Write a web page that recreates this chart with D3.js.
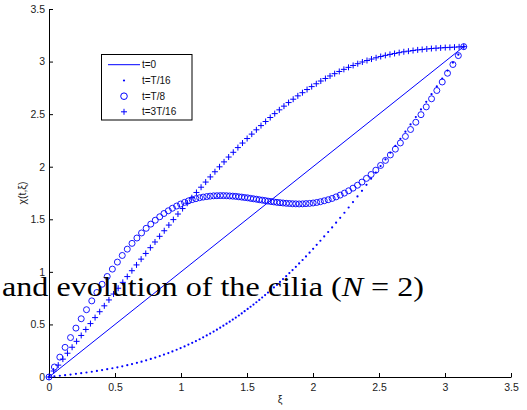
<!DOCTYPE html>
<html><head><meta charset="utf-8">
<script src="https://cdn.jsdelivr.net/npm/d3@7"></script>
<style>
html,body{margin:0;padding:0;background:#fff;overflow:hidden}
.ax text, .lbl {font-family: "Liberation Sans", Arial, Helvetica, sans-serif;}
.cap {font-family: "Liberation Serif", "DejaVu Serif", serif;}
</style>
</head><body><svg id="c" width="527" height="410"></svg>
<script>
// ---- data ----
const seriesNames = ["t=0", "t=T/16", "t=T/8", "t=3T/16"];
const tickValues = [0, 0.5, 1, 1.5, 2, 2.5, 3, 3.5];
const tickLabels = ["0", "0.5", "1", "1.5", "2", "2.5", "3", "3.5"];

// t=0 : straight line
const xiLine = [0, 3.142];
const chiT0 = [0, 3.142];

// sample abscissae used by t=T/16 and t=T/8
const xiA = [
 0, 0.041, 0.082, 0.122, 0.163, 0.204, 0.244, 0.284, 0.324, 0.363,
 0.402, 0.441, 0.480, 0.518, 0.555, 0.593, 0.629, 0.666, 0.701, 0.736,
 0.771, 0.805, 0.839, 0.871, 0.904, 0.935, 0.967, 0.997, 1.027, 1.056,
 1.085, 1.113, 1.141, 1.168, 1.195, 1.221, 1.247, 1.272, 1.297, 1.321,
 1.345, 1.369, 1.392, 1.415, 1.438, 1.460, 1.482, 1.505, 1.527, 1.549,
 1.571, 1.593, 1.615, 1.637, 1.659, 1.682, 1.704, 1.727, 1.750, 1.773,
 1.797, 1.821, 1.845, 1.870, 1.895, 1.921, 1.947, 1.974, 2.001, 2.028,
 2.056, 2.085, 2.115, 2.145, 2.175, 2.206, 2.238, 2.270, 2.303, 2.337,
 2.371, 2.405, 2.440, 2.476, 2.512, 2.549, 2.586, 2.624, 2.662, 2.700,
 2.739, 2.779, 2.818, 2.858, 2.898, 2.938, 2.979, 3.019, 3.060, 3.101,
 3.142];

const chiT16 = [
 0, 0.006, 0.012, 0.017, 0.023, 0.030, 0.036, 0.043, 0.050, 0.058,
 0.066, 0.074, 0.083, 0.092, 0.102, 0.112, 0.123, 0.135, 0.146, 0.159,
 0.172, 0.185, 0.199, 0.213, 0.228, 0.243, 0.259, 0.275, 0.291, 0.308,
 0.325, 0.342, 0.359, 0.377, 0.395, 0.413, 0.432, 0.450, 0.469, 0.488,
 0.507, 0.526, 0.546, 0.565, 0.585, 0.605, 0.626, 0.647, 0.668, 0.689,
 0.711, 0.733, 0.756, 0.779, 0.803, 0.827, 0.852, 0.877, 0.904, 0.931,
 0.959, 0.988, 1.017, 1.048, 1.080, 1.113, 1.147, 1.182, 1.219, 1.257,
 1.296, 1.337, 1.379, 1.423, 1.468, 1.514, 1.562, 1.612, 1.664, 1.717,
 1.771, 1.828, 1.886, 1.945, 2.006, 2.069, 2.133, 2.198, 2.265, 2.333,
 2.402, 2.473, 2.545, 2.617, 2.690, 2.764, 2.839, 2.914, 2.990, 3.066,
 3.142];

const chiT8 = [
 0, 0.095, 0.189, 0.282, 0.375, 0.465, 0.554, 0.640, 0.724, 0.804,
 0.882, 0.956, 1.026, 1.093, 1.156, 1.216, 1.271, 1.322, 1.370, 1.414,
 1.454, 1.491, 1.524, 1.555, 1.581, 1.605, 1.626, 1.645, 1.661, 1.675,
 1.687, 1.696, 1.705, 1.711, 1.716, 1.720, 1.723, 1.724, 1.725, 1.725,
 1.724, 1.722, 1.720, 1.718, 1.714, 1.711, 1.707, 1.704, 1.699, 1.695,
 1.691, 1.686, 1.682, 1.678, 1.673, 1.669, 1.665, 1.661, 1.658, 1.655,
 1.652, 1.650, 1.648, 1.647, 1.646, 1.647, 1.649, 1.651, 1.655, 1.660,
 1.667, 1.676, 1.686, 1.698, 1.713, 1.730, 1.749, 1.771, 1.796, 1.824,
 1.854, 1.889, 1.926, 1.967, 2.012, 2.060, 2.112, 2.167, 2.226, 2.288,
 2.354, 2.423, 2.495, 2.569, 2.646, 2.725, 2.806, 2.889, 2.972, 3.057,
 3.142];

// sample abscissae used by t=3T/16
const xiB = [
 0, 0.035, 0.070, 0.105, 0.140, 0.175, 0.209, 0.244, 0.279, 0.314,
 0.349, 0.384, 0.419, 0.454, 0.489, 0.524, 0.559, 0.593, 0.628, 0.663,
 0.698, 0.733, 0.768, 0.803, 0.838, 0.873, 0.908, 0.942, 0.977, 1.012,
 1.047, 1.082, 1.117, 1.152, 1.187, 1.222, 1.257, 1.292, 1.326, 1.361,
 1.396, 1.431, 1.466, 1.501, 1.536, 1.571, 1.606, 1.641, 1.676, 1.710,
 1.745, 1.780, 1.815, 1.850, 1.885, 1.920, 1.955, 1.990, 2.025, 2.059,
 2.094, 2.129, 2.164, 2.199, 2.234, 2.269, 2.304, 2.339, 2.374, 2.409,
 2.443, 2.478, 2.513, 2.548, 2.583, 2.618, 2.653, 2.688, 2.723, 2.758,
 2.793, 2.827, 2.862, 2.897, 2.932, 2.967, 3.002, 3.037, 3.072, 3.107,
 3.142];

const chi3T16 = [
 0, 0.057, 0.113, 0.170, 0.226, 0.283, 0.339, 0.395, 0.452, 0.508,
 0.565, 0.621, 0.677, 0.733, 0.789, 0.844, 0.900, 0.955, 1.011, 1.066,
 1.121, 1.175, 1.230, 1.284, 1.338, 1.391, 1.445, 1.497, 1.550, 1.602,
 1.653, 1.705, 1.755, 1.805, 1.854, 1.903, 1.952, 1.999, 2.046, 2.092,
 2.137, 2.182, 2.225, 2.268, 2.310, 2.351, 2.391, 2.430, 2.468, 2.505,
 2.541, 2.576, 2.610, 2.642, 2.674, 2.704, 2.734, 2.762, 2.789, 2.815,
 2.839, 2.863, 2.885, 2.906, 2.926, 2.945, 2.963, 2.980, 2.996, 3.010,
 3.024, 3.036, 3.048, 3.059, 3.068, 3.077, 3.085, 3.093, 3.099, 3.105,
 3.111, 3.115, 3.120, 3.124, 3.127, 3.130, 3.133, 3.135, 3.137, 3.140,
 3.142];

// ---- drawing ----
const BLUE = "#0000ff";
const svg = d3.select("#c");
svg.append("rect").attr("width", 527).attr("height", 410).attr("fill", "#fff");

const x = d3.scaleLinear().domain([0, 3.5]).range([49, 511]);
const y = d3.scaleLinear().domain([0, 3.5]).range([377, 9]);

const gx = svg.append("g").attr("class", "ax").attr("transform", "translate(0,377)")
  .call(d3.axisBottom(x).tickValues(tickValues).tickFormat((d, i) => tickLabels[i])
        .tickSizeInner(-4).tickSizeOuter(0).tickPadding(6.5));
const gy = svg.append("g").attr("class", "ax").attr("transform", "translate(49,0)")
  .call(d3.axisLeft(y).tickValues(tickValues).tickFormat((d, i) => tickLabels[i])
        .tickSizeInner(-4).tickSizeOuter(0).tickPadding(4));
[gx, gy].forEach(g => {
  g.attr("font-family", null).attr("font-size", null);
  g.selectAll("path,line").attr("stroke", "#000");
  g.selectAll("text").style("font-size", "10.5px").attr("fill", "#222");
});

svg.append("text").attr("class", "lbl").attr("x", 280).attr("y", 403).attr("text-anchor", "middle")
  .style("font-size", "10.5px").attr("fill", "#222").text("ξ");
svg.append("text").attr("class", "lbl").attr("transform", "translate(26,193) rotate(-90)")
  .attr("text-anchor", "middle").style("font-size", "10.5px")
  .attr("fill", "#222").text("χ(t,ξ)");

const plot = svg.append("g");
// t=0 line
plot.append("path").datum(d3.zip(xiLine, chiT0))
  .attr("d", d3.line().x(d => x(d[0])).y(d => y(d[1])))
  .attr("fill", "none").attr("stroke", BLUE).attr("stroke-width", 1);
// t=T/16 dots
plot.append("g").selectAll("circle").data(d3.zip(xiA, chiT16)).join("circle")
  .attr("cx", d => x(d[0])).attr("cy", d => y(d[1])).attr("r", 1.1).attr("fill", BLUE);
// t=T/8 circles
plot.append("g").selectAll("circle").data(d3.zip(xiA, chiT8)).join("circle")
  .attr("cx", d => x(d[0])).attr("cy", d => y(d[1])).attr("r", 3)
  .attr("fill", "none").attr("stroke", BLUE).attr("stroke-width", 0.9);
// t=3T/16 plus
const plusPath = "M-3,0H3M0,-3V3";
plot.append("g").selectAll("path").data(d3.zip(xiB, chi3T16)).join("path")
  .attr("transform", d => `translate(${x(d[0])},${y(d[1])})`)
  .attr("d", plusPath).attr("fill", "none").attr("stroke", BLUE).attr("stroke-width", 1);

// legend
const lg = svg.append("g");
lg.append("rect").attr("x", 101.5).attr("y", 54.5).attr("width", 90.5).attr("height", 65.5)
  .attr("fill", "#fff").attr("stroke", "#000").attr("stroke-width", 1);
const rowY = [64.7, 80.5, 96.2, 111.8];
seriesNames.forEach((name, i) => {
  const ry = rowY[i];
  if (i === 0) {
    lg.append("line").attr("x1", 108).attr("x2", 140).attr("y1", ry).attr("y2", ry)
      .attr("stroke", BLUE).attr("stroke-width", 1);
  } else if (i === 1) {
    lg.append("circle").attr("cx", 124).attr("cy", ry).attr("r", 1.1).attr("fill", BLUE);
  } else if (i === 2) {
    lg.append("circle").attr("cx", 124).attr("cy", ry).attr("r", 3.3)
      .attr("fill", "none").attr("stroke", BLUE).attr("stroke-width", 1);
  } else {
    lg.append("path").attr("transform", `translate(124,${ry})`).attr("d", plusPath)
      .attr("fill", "none").attr("stroke", BLUE).attr("stroke-width", 1);
  }
  lg.append("text").attr("class", "lbl").attr("x", 142).attr("y", ry + 3.6)
    .style("font-size", "10px").attr("fill", "#111").text(name);
});

// overlaid caption fragment
const cap = svg.append("text").attr("class", "cap").attr("x", 2).attr("y", 296)
  .style("font-size", "28px")
  .attr("fill", "#000").attr("textLength", 422).attr("lengthAdjust", "spacingAndGlyphs");
cap.append("tspan").text("and evolution of the cilia (");
cap.append("tspan").attr("font-style", "italic").text("N");
cap.append("tspan").text(" = 2)");
</script></body></html>
